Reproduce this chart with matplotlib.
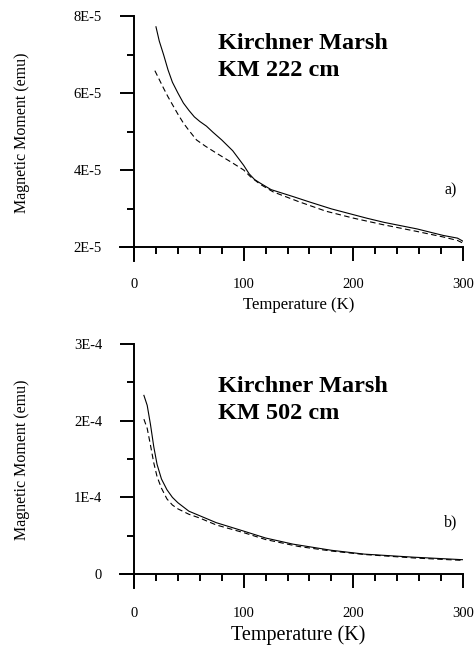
import numpy as np
import matplotlib.pyplot as plt
from matplotlib.ticker import FixedLocator

plt.rcParams['font.family'] = ['Liberation Serif', 'DejaVu Serif']

# panel a) KM 222 cm, moment in units of 1E-5 emu
temp_a_solid = [20, 23, 27, 31, 35, 40, 45, 50, 55, 60, 66, 72, 80, 90, 100, 105,
                110, 115, 125, 145, 160, 180, 200, 212, 228, 258, 282, 295, 300]
mom_a_solid = [7.72, 7.35, 6.99, 6.60, 6.28, 6.00, 5.74, 5.55, 5.38, 5.26, 5.14, 4.98,
               4.78, 4.50, 4.12, 3.90, 3.75, 3.66, 3.49, 3.31, 3.17, 2.99, 2.84, 2.75,
               2.64, 2.47, 2.30, 2.23, 2.15]
temp_a_dash = [19, 23, 27, 31, 36, 40, 45, 50, 57, 65, 75, 90, 100, 106, 115, 127,
               150, 175, 200, 227, 257, 282, 295, 300]
mom_a_dash = [6.58, 6.35, 6.12, 5.90, 5.65, 5.45, 5.22, 5.03, 4.78, 4.62, 4.44, 4.18,
              4.00, 3.83, 3.63, 3.43, 3.18, 2.93, 2.75, 2.58, 2.41, 2.26, 2.17, 2.10]

# panel b) KM 502 cm, moment in units of 1E-4 emu
temp_b_solid = [9, 12, 15, 18, 21, 25, 30, 35, 40, 50, 60, 75, 100, 120, 145, 180,
                210, 255, 300]
mom_b_solid = [2.33, 2.20, 1.95, 1.66, 1.43, 1.24, 1.10, 1.00, 0.93, 0.82, 0.76, 0.67,
               0.56, 0.47, 0.39, 0.31, 0.26, 0.22, 0.187]
temp_b_dash = [9, 12, 15, 18, 21, 25, 30, 35, 40, 50, 60, 75, 100, 120, 150, 180,
               210, 255, 300]
mom_b_dash = [2.02, 1.90, 1.68, 1.45, 1.27, 1.12, 0.98, 0.90, 0.85, 0.78, 0.73, 0.64,
              0.54, 0.45, 0.36, 0.30, 0.255, 0.21, 0.178]

yticks_a = [2e-5, 4e-5, 6e-5, 8e-5]
ylabels_a = ['2E-5', '4E-5', '6E-5', '8E-5']
yticks_b = [0, 1e-4, 2e-4, 3e-4]
ylabels_b = ['0', '1E-4', '2E-4', '3E-4']
xticks = [0, 100, 200, 300]

W, H = 476, 647
fig = plt.figure(figsize=(W / 100, H / 100), dpi=100)


def px(x0, y0, x1, y1):
    return [x0 / W, 1 - y1 / H, (x1 - x0) / W, (y1 - y0) / H]


def setup(ax, ybase, ytop, yticks, ylabels, yminor, xpad):
    span = ytop - ybase
    ax.set_xlim(-12.8, 300)
    ax.set_ylim(ybase - span * 14 / 231, ytop)
    ax.spines['top'].set_visible(False)
    ax.spines['right'].set_visible(False)
    ax.spines['left'].set_position(('data', 0))
    ax.spines['bottom'].set_position(('data', ybase))
    for s in ('left', 'bottom'):
        ax.spines[s].set_linewidth(1.4)
    ax.set_xticks(xticks)
    ax.set_xticklabels([str(t) for t in xticks])
    ax.xaxis.set_minor_locator(FixedLocator([t for t in range(20, 300, 20) if t % 100]))
    ax.set_yticks(yticks)
    ax.set_yticklabels(ylabels)
    ax.yaxis.set_minor_locator(FixedLocator(yminor))
    ax.tick_params(which='major', direction='out', length=10, width=1.4,
                   labelsize=10.5)
    ax.tick_params(which='minor', direction='out', length=5, width=1.4)
    ax.tick_params(axis='y', which='major', pad=13)
    ax.tick_params(axis='x', which='major', pad=xpad)


ax1 = fig.add_axes(px(120, 16, 463, 261))
ax1.plot(temp_a_solid, np.array(mom_a_solid) * 1e-5, color='black', lw=0.8)
ax1.plot(temp_a_dash, np.array(mom_a_dash) * 1e-5, color='black', lw=0.8,
         linestyle=(0, (5, 3)))
setup(ax1, 2e-5, 8e-5, yticks_a, ylabels_a, [3e-5, 5e-5, 7e-5], 12.5)

ax2 = fig.add_axes(px(120, 344, 463, 588))
ax2.plot(temp_b_solid, np.array(mom_b_solid) * 1e-4, color='black', lw=0.8)
ax2.plot(temp_b_dash, np.array(mom_b_dash) * 1e-4, color='black', lw=0.8,
         linestyle=(0, (5, 3)))
setup(ax2, 0, 3e-4, yticks_b, ylabels_b, [0.5e-4, 1.5e-4, 2.5e-4], 14)

# titles
fig.text(218 / W, 1 - 33 / H, 'Kirchner Marsh\nKM 222 cm', ha='left', va='top',
         fontsize=17.5, fontweight='bold', linespacing=1.35)
fig.text(218 / W, 1 - 376 / H, 'Kirchner Marsh\nKM 502 cm', ha='left', va='top',
         fontsize=17.5, fontweight='bold', linespacing=1.35)

# panel letters
fig.text(457 / W, 1 - 190 / H, 'a)', ha='right', va='center', fontsize=11.5)
fig.text(457 / W, 1 - 522 / H, 'b)', ha='right', va='center', fontsize=11.5)

# axis labels
fig.text(298.5 / W, 1 - 305 / H, 'Temperature (K)', ha='center', va='center', fontsize=12)
fig.text(298.5 / W, 1 - 635 / H, 'Temperature (K)', ha='center', va='center', fontsize=14.5)
fig.text(22 / W, 1 - 133 / H, 'Magnetic Moment (emu)', ha='center', va='center',
         rotation=90, fontsize=11.5)
fig.text(22 / W, 1 - 460 / H, 'Magnetic Moment (emu)', ha='center', va='center',
         rotation=90, fontsize=11.5)

fig.savefig('out.png', dpi=100)
